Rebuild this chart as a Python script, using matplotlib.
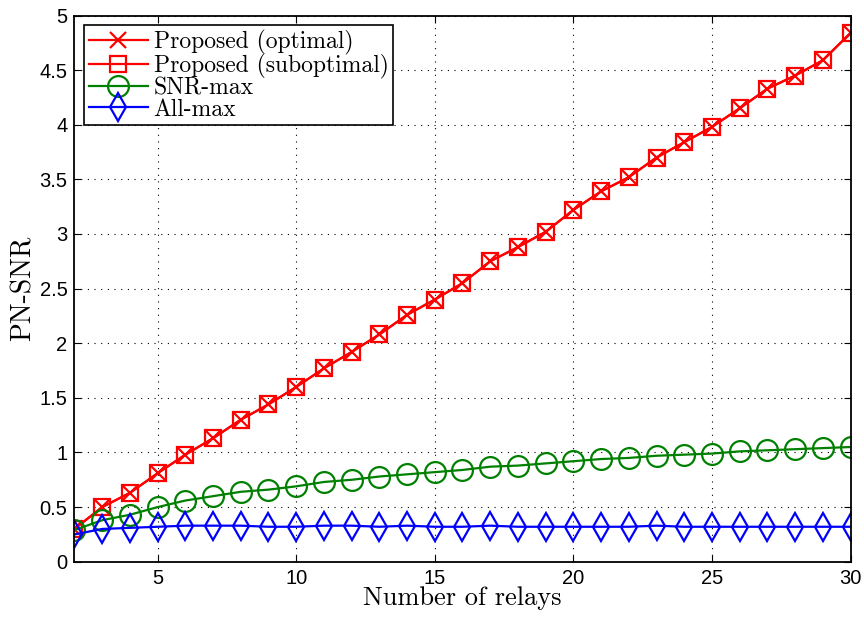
import matplotlib
matplotlib.use("Agg")
import matplotlib.pyplot as plt
import numpy as np

# Data
relays = list(range(2, 31))
proposed_opt = [0.30, 0.50, 0.63, 0.81, 0.98, 1.13, 1.30, 1.44, 1.60, 1.77,
                1.92, 2.08, 2.26, 2.40, 2.55, 2.75, 2.88, 3.02, 3.22, 3.39,
                3.52, 3.70, 3.84, 3.98, 4.15, 4.33, 4.45, 4.59, 4.84]
proposed_sub = [0.30, 0.50, 0.63, 0.81, 0.98, 1.13, 1.30, 1.44, 1.60, 1.77,
                1.92, 2.08, 2.26, 2.40, 2.55, 2.75, 2.88, 3.02, 3.22, 3.39,
                3.52, 3.70, 3.84, 3.98, 4.15, 4.33, 4.45, 4.59, 4.84]
snr_max = [0.29, 0.38, 0.43, 0.50, 0.56, 0.60, 0.64, 0.66, 0.69, 0.73,
           0.75, 0.78, 0.80, 0.82, 0.84, 0.87, 0.88, 0.90, 0.92, 0.94,
           0.95, 0.97, 0.98, 0.99, 1.01, 1.02, 1.03, 1.04, 1.05]
all_max = [0.25, 0.30, 0.31, 0.32, 0.33, 0.33, 0.33, 0.32, 0.32, 0.33,
           0.33, 0.32, 0.33, 0.32, 0.32, 0.33, 0.32, 0.32, 0.32, 0.32,
           0.32, 0.33, 0.32, 0.32, 0.32, 0.32, 0.32, 0.32, 0.32]

xticks = [5, 10, 15, 20, 25, 30]
yticks = [0, 0.5, 1, 1.5, 2, 2.5, 3, 3.5, 4, 4.5, 5]
ytick_labels = ["0", "0.5", "1", "1.5", "2", "2.5", "3", "3.5", "4", "4.5", "5"]

serif = "cmr10"
sans = "Liberation Sans"

fig = plt.figure(figsize=(8.64, 6.2), dpi=100)
ax = fig.add_axes([0.0862, 0.094, 0.8982, 0.881])

ax.plot(relays, proposed_opt, color="red", lw=1.6, marker="x", ms=11,
        mew=1.6, label="Proposed (optimal)")
ax.plot(relays, proposed_sub, color="red", lw=1.6, marker="s", ms=11.5,
        mew=1.6, mfc="none", label="Proposed (suboptimal)")
ax.plot(relays, snr_max, color="#008000", lw=1.6, marker="o", ms=15,
        mew=1.6, mfc="none", label="SNR-max")
ax.plot(relays, all_max, color="blue", lw=1.6, marker="d", ms=14,
        mew=1.6, mfc="none", label="All-max")

ax.set_xlim(2, 30)
ax.set_ylim(0, 5)
ax.set_xticks(xticks)
ax.set_yticks(yticks)
ax.set_yticklabels(ytick_labels)
ax.tick_params(direction="in", length=5, width=0.8, top=True, right=True,
               labelsize=14.5, pad=5)
for lab in ax.get_xticklabels() + ax.get_yticklabels():
    lab.set_fontfamily(sans)
ax.grid(True, linestyle=(0, (1, 5)), color="black", linewidth=0.8)
for sp in ax.spines.values():
    sp.set_linewidth(1.3)

ax.set_xlabel("Number of relays", fontfamily=serif, fontsize=19, labelpad=-1)
ax.set_ylabel("PN-SNR", fontfamily=serif, fontsize=20, labelpad=2)

leg = ax.legend(loc="upper left", prop={"family": serif, "size": 17},
                fancybox=False, edgecolor="black", framealpha=1,
                handlelength=2.5, handletextpad=0.25, labelspacing=-0.05,
                borderpad=0.2, borderaxespad=0.4)
leg.get_frame().set_linewidth(1.2)

fig.savefig("out.png", dpi=100)
